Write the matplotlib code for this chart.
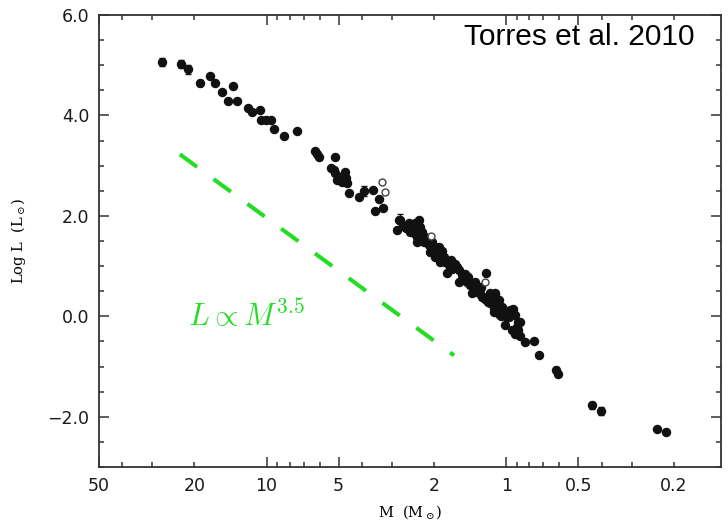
"""
Mass-luminosity relation for detached eclipsing binaries (Torres et al. 2010)
with an L ~ M^3.5 guide line.
"""

import numpy as np
import matplotlib
matplotlib.use('Agg')
import matplotlib.pyplot as plt
from matplotlib.ticker import FixedLocator, FuncFormatter, MultipleLocator

# ── Data ──────────────────────────────────────────────────────────────────────
# log10(M / Msun) and log10(L / Lsun) of the measured stars
log_mass = [
    1.236, 1.217, 1.185, 1.140, 1.160, 1.122, 1.078, 1.060, 1.028, 1.025,
    1.004, 0.980, 0.967, 0.928, 0.872, 0.799, 0.789, 0.779, 0.7125, 0.729,
    0.720, 0.7125, 0.692, 0.671, 0.667, 0.705, 0.685, 0.664, 0.657, 0.615,
    0.557, 0.532, 0.514, 0.549,
    0.449, 0.455, 0.407, 0.393, 0.379, 0.365, 0.358, 0.400, 0.386, 0.372,
    0.351, 0.3375, 0.372, 0.345, 0.324, 0.303, 0.317, 0.289, 0.275, 0.296,
    0.261, 0.254, 0.275, 0.240, 0.247, 0.226, 0.199, 0.185, 0.178, 0.199,
    0.164, 0.150, 0.136, 0.122, 0.143, 0.115, 0.101, 0.083, 0.080, 0.060,
    0.046, 0.067, 0.039, 0.025, 0.053, 0.011, -0.024, -0.003, -0.0375, 0.004,
    -0.051, -0.045, 0.108, 0.095, 0.067, 0.046, 0.074, 0.053, 0.032, 0.018,
    0.053, -0.014, -0.030, -0.010, -0.024, -0.0375, -0.051, -0.058, -0.058,
    -0.079, -0.114, -0.135, -0.218, -0.630, -0.667,
    0.420, 0.383, 0.330, 0.310, 0.282, 0.268, 0.232, 0.212, 0.205, 0.172,
    0.158, 0.130, 0.118, 0.104, 0.090, 0.072, 0.030, 0.020, 0.430, 0.362,
]
log_lum = [
    4.785, 4.64, 4.46, 4.585, 4.29, 4.29, 4.14, 4.07, 4.11, 3.91,
    3.91, 3.91, 3.73, 3.59, 3.70, 3.30, 3.23, 3.165, 3.18, 2.945,
    2.91, 2.85, 2.78, 2.88, 2.75, 2.71, 2.68, 2.65, 2.46, 2.38,
    2.51, 2.33, 2.16, 2.10,
    1.916, 1.717, 1.85, 1.78, 1.85, 1.916, 1.78, 1.68, 1.65, 1.58,
    1.68, 1.58, 1.48, 1.48, 1.42, 1.385, 1.285, 1.32, 1.25, 1.185,
    1.185, 1.085, 1.085, 1.02, 0.855, 0.95, 0.92, 0.82, 0.72, 0.69,
    0.69, 0.62, 0.555, 0.59, 0.455, 0.455, 0.39, 0.855, 0.32, 0.39,
    0.42, 0.26, 0.26, 0.19, 0.16, 0.09, 0.125, -0.01, 0.024, -0.175,
    -0.11, -0.21, 0.52, 0.39, 0.455, 0.455, 0.29, 0.22, 0.32, 0.19,
    0.09, 0.125, 0.14, -0.01, -0.275, -0.355, -0.275, -0.11, -0.395,
    -0.51, -0.49, -0.76, -1.14, -2.25, -2.31,
    1.75, 1.70, 1.52, 1.48, 1.38, 1.30, 1.12, 1.05, 0.98, 0.85,
    0.78, 0.68, 0.50, 0.58, 0.35, 0.38, 0.05, 0.00, 1.80, 1.62,
]

# stars plotted with their luminosity uncertainty
err_log_mass = [1.435, 1.358, 1.329, 1.279, 0.595, 0.442, -0.208, -0.357, -0.395]
err_log_lum  = [5.07, 5.02, 4.92, 4.65, 2.50, 1.92, -1.06, -1.77, -1.88]
err_dex      = [0.08, 0.08, 0.09, 0.06, 0.10, 0.12, 0.05, 0.07, 0.08]

# open symbols
open_log_mass = [0.518, 0.504, 0.3125, 0.0875]
open_log_lum  = [2.68, 2.48, 1.60, 0.68]

# L ~ M^3.5 guide
fit_exponent = 3.5
fit_offset   = -1.54
fit_mass     = [23.0, 1.65]

x_major = [50, 10, 5, 1, 0.5]
x_minor = [40, 30, 20, 9, 8, 7, 6, 4, 3, 2, 0.9, 0.8, 0.7, 0.6, 0.4, 0.3, 0.2]
x_labelled = [50, 20, 10, 5, 2, 1, 0.5, 0.2]

GREEN = '#22dd22'
AXCOL = '#333333'

# ── Plot ──────────────────────────────────────────────────────────────────────
fig = plt.figure(figsize=(7.28, 5.22), dpi=100)
ax = fig.add_axes([99 / 728, 55 / 522, 622 / 728, 452 / 522])

mass = 10 ** np.array(log_mass)
ax.plot(mass, log_lum, 'o', ms=5.8, color='#111111', mec='#111111', zorder=3)

ax.errorbar(10 ** np.array(err_log_mass), err_log_lum, yerr=err_dex,
            fmt='o', ms=5.8, color='#111111', ecolor='#111111',
            elinewidth=1.0, capsize=2.2, capthick=1.0, zorder=3)

ax.plot(10 ** np.array(open_log_mass), open_log_lum, 'o', ms=5.0,
        mfc='white', mec='#444444', mew=1.0, zorder=4)

fm = np.array(fit_mass)
ax.plot(fm, fit_exponent * np.log10(fm) + fit_offset, color=GREEN, lw=2.9,
        dashes=(5.3, 5.1), solid_capstyle='butt', dash_capstyle='butt', zorder=2)

ax.text(0.143, 0.312, r'$L \propto M^{3.5}$', transform=ax.transAxes,
        color=GREEN, fontsize=22, math_fontfamily='cm', va='baseline', ha='left')
ax.text(0.958, 0.934, 'Torres et al. 2010', transform=ax.transAxes,
        fontsize=21.5, family='Liberation Sans', color='black',
        ha='right', va='baseline')

# axes
ax.set_xscale('log')
ax.set_xlim(50, 0.127)
ax.set_ylim(-3.0, 6.0)

ax.xaxis.set_major_locator(FixedLocator(x_major))
ax.xaxis.set_minor_locator(FixedLocator(x_minor))

def mass_label(v, pos):
    for m in x_labelled:
        if abs(v - m) < 1e-6 * m:
            return f'{m:g}'
    return ''

ax.xaxis.set_major_formatter(FuncFormatter(mass_label))
ax.xaxis.set_minor_formatter(FuncFormatter(mass_label))

ax.yaxis.set_major_locator(MultipleLocator(2.0))
ax.yaxis.set_minor_locator(MultipleLocator(0.5))
ax.yaxis.set_major_formatter(FuncFormatter(lambda v, p: f'{v:.1f}'.replace('-', '\u2212')))

for which, size in (('major', 7.0), ('minor', 3.4)):
    ax.tick_params(axis='both', which=which, direction='in', length=size,
                   width=1.1, color=AXCOL, top=True, right=True,
                   labelsize=12.5, labelcolor='#1a1a1a', pad=7)
ax.tick_params(axis='y', which='minor', length=3.8)

for sp in ax.spines.values():
    sp.set_linewidth(1.3)
    sp.set_color(AXCOL)

ax.set_xlabel(r'M  (M$_\odot$)', family='DejaVu Serif', fontsize=10.5,
              math_fontfamily='dejavuserif', labelpad=6)
ax.set_ylabel(r'Log L  (L$_\odot$)', family='DejaVu Serif', fontsize=10.5,
              math_fontfamily='dejavuserif', labelpad=14)

fig.savefig('out.png', dpi=100)
